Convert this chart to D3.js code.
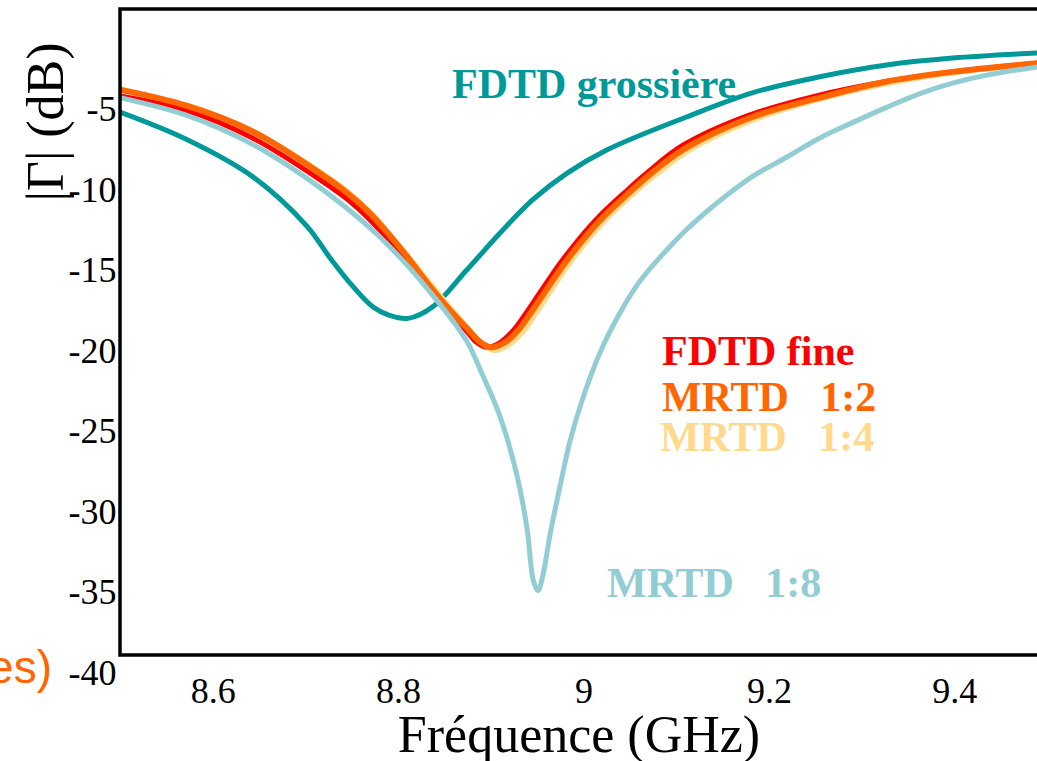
<!DOCTYPE html>
<html>
<head>
<meta charset="utf-8">
<script src="https://cdn.jsdelivr.net/npm/d3@7"></script>
<style>
  body { margin: 0; background: #fff; }
  svg { display: block; }
  .tick text { font-family: 'Liberation Serif', 'Times New Roman', serif; font-size: 36px; fill: #000; }
  .axis-title { font-family: 'Liberation Serif', 'Times New Roman', serif; font-size: 52px; fill: #000; }
  .curve-label { font-family: 'Liberation Serif', 'Times New Roman', serif; font-size: 42px; font-weight: bold; white-space: pre; }
</style>
</head>
<body>
<svg width="1037" height="761"></svg>
<script>
// tick values
const xTicks = [8.6, 8.8, 9, 9.2, 9.4];
const yTicks = [-5, -10, -15, -20, -25, -30, -35, -40];

// [frequency GHz, |Gamma| dB]
const fdtdGrossiere = [
  [8.5, -5.2], [8.572, -6.9], [8.643, -9.2], [8.702, -12.3], [8.726, -14.2],
  [8.751, -16.0], [8.773, -17.3], [8.79, -17.8], [8.811, -18.0], [8.837, -17.3],
  [8.874, -15.0], [8.91, -12.7], [8.945, -10.65], [8.982, -9.0], [9.025, -7.55],
  [9.111, -5.5], [9.182, -4.0], [9.255, -3.0], [9.327, -2.27], [9.398, -1.84], [9.5, -1.5]
];
const fdtdFine = [
  [8.5, -4.2], [8.572, -5.1], [8.643, -6.8], [8.716, -9.4], [8.745, -10.6],
  [8.77, -11.9], [8.806, -14.2], [8.837, -16.4], [8.856, -17.7], [8.874, -18.8],
  [8.885, -19.5], [8.896, -19.8], [8.91, -19.5], [8.925, -18.7], [8.94, -17.5],
  [8.977, -14.4], [9.013, -11.9], [9.048, -10.0], [9.07, -8.9], [9.106, -7.3],
  [9.178, -5.4], [9.25, -4.2], [9.327, -3.3], [9.398, -2.7], [9.5, -2.1]
];
const mrtd12 = [
  [8.5, -3.8], [8.572, -4.8], [8.643, -6.4], [8.716, -9.0], [8.745, -10.2],
  [8.77, -11.5], [8.806, -13.9], [8.837, -16.2], [8.856, -17.5], [8.874, -18.6],
  [8.889, -19.5], [8.9, -19.8], [8.915, -19.5], [8.93, -18.7], [8.945, -17.5],
  [8.982, -14.4], [9.018, -11.9], [9.053, -10.0], [9.075, -8.9], [9.111, -7.4],
  [9.182, -5.5], [9.255, -4.3], [9.327, -3.3], [9.398, -2.7], [9.5, -2.1]
];
const mrtd14 = [
  [8.5, -3.8], [8.572, -4.8], [8.643, -6.4], [8.716, -8.9], [8.745, -10.1],
  [8.77, -11.4], [8.806, -13.8], [8.837, -16.0], [8.856, -17.3], [8.874, -18.5],
  [8.89, -19.5], [8.903, -20.0], [8.918, -19.7], [8.934, -18.9], [8.95, -17.6],
  [8.986, -14.5], [9.022, -12.0], [9.057, -10.1], [9.08, -9.0], [9.116, -7.5],
  [9.187, -5.6], [9.258, -4.35], [9.33, -3.4], [9.4, -2.75], [9.5, -2.15]
];
const mrtd18 = [
  [8.5, -4.3], [8.572, -5.4], [8.643, -7.2], [8.716, -9.9], [8.77, -12.4],
  [8.805, -14.4], [8.842, -16.9], [8.874, -19.4], [8.891, -21.5], [8.91, -24.1],
  [8.928, -27.7], [8.939, -31.0], [8.946, -34.3], [8.951, -34.9], [8.956, -34.0],
  [8.964, -31.4], [8.974, -28.6], [8.986, -25.5], [8.999, -23.0], [9.018, -20.1],
  [9.039, -17.7], [9.057, -16.0], [9.075, -14.7], [9.111, -12.5], [9.147, -10.7],
  [9.182, -9.2], [9.219, -8.0], [9.255, -6.8], [9.29, -5.85], [9.327, -4.9],
  [9.363, -4.05], [9.398, -3.4], [9.435, -2.9], [9.5, -2.3]
];

const seriesNames  = ['FDTD grossière', 'FDTD fine', 'MRTD   1:4', 'MRTD   1:2', 'MRTD   1:8'];
const seriesColors = ['#009999', '#ff0000', '#ffd98c', '#ff6600', '#93cdd4'];
const seriesData   = [fdtdGrossiere, fdtdFine, mrtd14, mrtd12, mrtd18];

const svg = d3.select('svg');

const render = () => {
  const plot = { left: 120, top: 9, right: 1047, bottom: 655 };

  const xScale = d3.scaleLinear()
    .domain([8.5, 9.5])
    .range([plot.left, plot.right]);

  // the tick labels sit a bit below the frame (-40 is under the bottom edge)
  const yScale = d3.scaleLinear()
    .domain([0, -40])
    .range([28.4, 672.8]);

  svg.append('defs').append('clipPath').attr('id', 'plot-clip')
    .append('rect')
      .attr('x', plot.left).attr('y', plot.top)
      .attr('width', plot.right - plot.left).attr('height', plot.bottom - plot.top);

  // curves
  const line = d3.line()
    .x(d => xScale(d[0]))
    .y(d => yScale(d[1]))
    .curve(d3.curveCatmullRom.alpha(0.5));

  svg.append('g')
    .attr('clip-path', 'url(#plot-clip)')
    .selectAll('path')
    .data(seriesData).enter()
    .append('path')
      .attr('d', line)
      .attr('fill', 'none')
      .attr('stroke', (d, i) => seriesColors[i])
      .attr('stroke-width', (d, i) => i === 3 ? 6 : 5)
      .attr('stroke-linejoin', 'round');

  // frame
  svg.append('rect')
    .attr('x', plot.left).attr('y', plot.top)
    .attr('width', plot.right - plot.left).attr('height', plot.bottom - plot.top)
    .attr('fill', 'none')
    .attr('stroke', '#000')
    .attr('stroke-width', 3.5);

  // axes
  const xAxis = d3.axisBottom(xScale)
    .tickValues(xTicks)
    .tickFormat(d => String(d))
    .tickSize(0)
    .tickPadding(22);
  svg.append('g')
    .attr('transform', `translate(0,${plot.bottom})`)
    .call(xAxis)
    .select('.domain').remove();

  const yAxis = d3.axisLeft(yScale)
    .tickValues(yTicks)
    .tickFormat(d => String(d))
    .tickSize(0)
    .tickPadding(3.5);
  svg.append('g')
    .attr('transform', `translate(${plot.left},0)`)
    .call(yAxis)
    .select('.domain').remove();

  svg.append('text')
    .attr('class', 'axis-title')
    .attr('x', 579).attr('y', 752)
    .attr('text-anchor', 'middle')
    .text('Fréquence (GHz)');

  svg.append('text')
    .attr('class', 'axis-title')
    .attr('transform', 'translate(63,122) rotate(-90)')
    .attr('text-anchor', 'middle')
    .text('|Γ| (dB)');

  // curve labels
  const labels = [
    { i: 0, x: 452, y: 98 },
    { i: 1, x: 662, y: 365 },
    { i: 3, x: 662, y: 411 },
    { i: 2, x: 660, y: 451 },
    { i: 4, x: 607, y: 597 }
  ];
  svg.selectAll('.curve-label')
    .data(labels).enter()
    .append('text')
      .attr('class', 'curve-label')
      .attr('x', d => d.x).attr('y', d => d.y)
      .attr('fill', d => seriesColors[d.i])
      .text(d => seriesNames[d.i]);

  // leftover of a neighbouring caption, cut by the left edge
  svg.append('text')
    .attr('x', 52).attr('y', 683)
    .attr('text-anchor', 'end')
    .attr('fill', '#ff6600')
    .style('font-family', "'Liberation Sans', Arial, sans-serif")
    .style('font-size', '46px')
    .text('es)');
};

render();
</script>
</body>
</html>
